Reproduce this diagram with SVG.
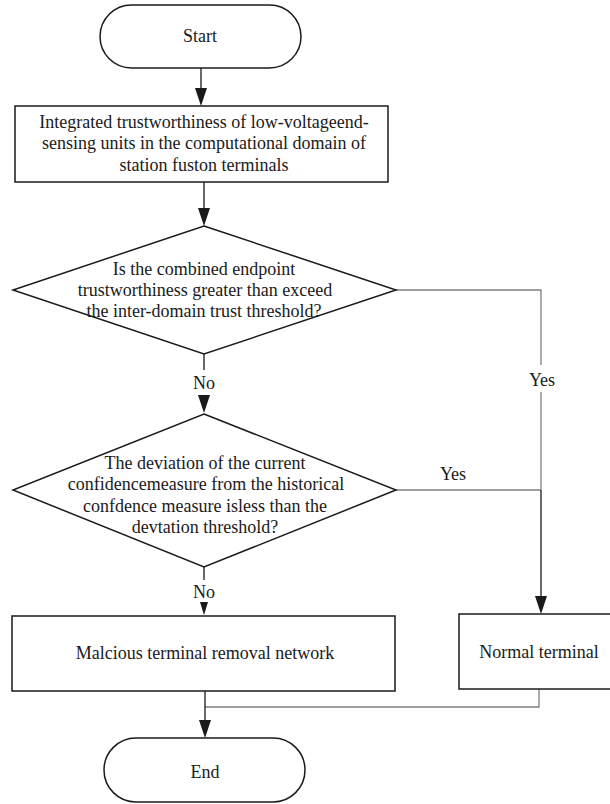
<svg xmlns="http://www.w3.org/2000/svg" width="610" height="804" viewBox="0 0 610 804">
<style>
.shape{fill:#fff;stroke:#1a1a1a;stroke-width:1.5}
.t{font-family:"Liberation Serif","Times New Roman",serif;font-size:18px;fill:#1a1a1a;text-anchor:middle}
.dk{fill:none;stroke:#1a1a1a;stroke-width:1.3}
.gr{fill:none;stroke:#808080;stroke-width:1.3}
.ah{fill:#1a1a1a;stroke:none}
</style>
<rect width="610" height="804" fill="#fff"/>
<g id="connectors">
<line class="dk" x1="201" y1="68" x2="201" y2="90"/>
<polygon class="ah" points="195,88 207,88 201,106"/>
<line class="dk" x1="204" y1="182" x2="204" y2="210"/>
<polygon class="ah" points="198,208 210,208 204,226"/>
<line class="dk" x1="204" y1="354" x2="204" y2="370"/>
<polygon class="ah" points="198,395 210,395 204,413"/>
<path class="gr" d="M396,290 H541 V365 M541,392 V490"/>
<path class="gr" d="M396,490 H541"/>
<line class="dk" x1="541" y1="490" x2="541" y2="598"/>
<polygon class="ah" points="535,596 547,596 541,614"/>
<line class="dk" x1="204" y1="567" x2="204" y2="580"/>
<polygon class="ah" points="200,602 208,602 204,615"/>
<path class="gr" d="M539,689 V707 H205"/>
<line class="dk" x1="205" y1="691" x2="205" y2="722"/>
<polygon class="ah" points="199,720 211,720 205,738"/>
<text class="t" x="204" y="389">No</text>
<text class="t" x="204" y="598">No</text>
<text class="t" x="542" y="386">Yes</text>
<text class="t" x="453" y="480">Yes</text>
</g>
<g id="start">
<rect class="shape" x="100" y="5" width="201" height="63" rx="31.5" ry="31.5"/>
<text class="t" x="200" y="42">Start</text>
</g>
<g id="integrate">
<rect class="shape" x="15" y="106" width="373" height="76"/>
<text class="t" x="204" y="128">Integrated trustworthiness of low-voltageend-</text>
<text class="t" x="204" y="149">sensing units in the computational domain of</text>
<text class="t" x="204" y="171">station fuston terminals</text>
</g>
<g id="decision1">
<polygon class="shape" points="204,226 396,290 204,354 13,290"/>
<text class="t" x="204" y="275">Is the combined endpoint</text>
<text class="t" x="205" y="296">trustworthiness greater than exceed</text>
<text class="t" x="204" y="317">the inter-domain trust threshold?</text>
</g>
<g id="decision2">
<polygon class="shape" points="204,414 396,490 204,567 13,490"/>
<text class="t" x="205" y="469">The deviation of the current</text>
<text class="t" x="206" y="490">confidencemeasure from the historical</text>
<text class="t" x="205" y="512">confdence measure isless than the</text>
<text class="t" x="205" y="533">devtation threshold?</text>
</g>
<g id="malicious">
<rect class="shape" x="12" y="616" width="383" height="75"/>
<text class="t" x="205" y="659">Malcious terminal removal network</text>
</g>
<g id="normal">
<rect class="shape" x="459" y="614" width="160" height="75"/>
<text class="t" x="539" y="658">Normal terminal</text>
</g>
<g id="end">
<rect class="shape" x="104" y="738" width="201" height="64" rx="32" ry="32"/>
<text class="t" x="205" y="778">End</text>
</g>
</svg>
